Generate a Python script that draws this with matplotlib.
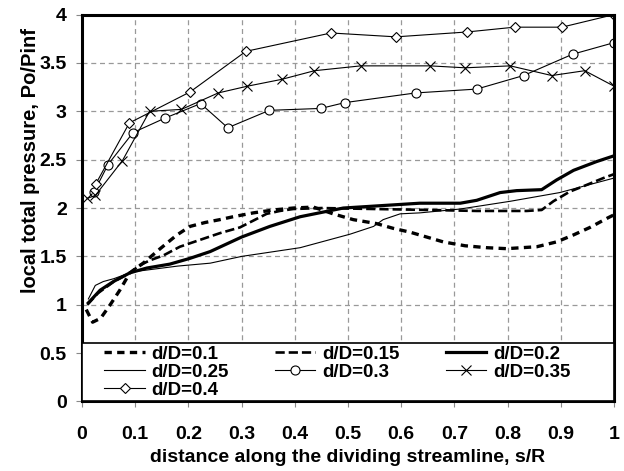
import matplotlib
matplotlib.use("Agg")
from matplotlib import pyplot as plt
from matplotlib.patches import Rectangle
from matplotlib.ticker import FuncFormatter, MultipleLocator

plt.rcParams['font.family'] = ['Liberation Sans', 'DejaVu Sans']
plt.rcParams['font.weight'] = 'bold'

# d/D = 0.1
x01 = [0.008, 0.02, 0.035, 0.053, 0.071, 0.09, 0.115, 0.147, 0.178, 0.203, 0.231, 0.259,
       0.284, 0.322, 0.36, 0.397, 0.435, 0.472, 0.51, 0.553, 0.585, 0.617, 0.648, 0.679,
       0.72, 0.761, 0.798, 0.855, 0.892, 0.923, 0.955, 0.989, 1.0]
y01 = [0.95, 0.82, 0.86, 1.0, 1.15, 1.33, 1.43, 1.58, 1.72, 1.81, 1.85, 1.88,
       1.91, 1.95, 1.98, 2.0, 2.01, 1.94, 1.88, 1.84, 1.79, 1.75, 1.70, 1.65,
       1.61, 1.59, 1.58, 1.60, 1.65, 1.72, 1.80, 1.90, 1.93]

# d/D = 0.15
x015 = [0.01, 0.03, 0.06, 0.09, 0.109, 0.128, 0.153, 0.184, 0.216, 0.259, 0.297, 0.322,
        0.347, 0.372, 0.397, 0.45, 0.55, 0.654, 0.742, 0.836, 0.864, 0.886, 0.917,
        0.949, 0.98, 1.0]
y015 = [1.0, 1.12, 1.24, 1.33, 1.41, 1.46, 1.51, 1.60, 1.66, 1.74, 1.80, 1.87,
        1.94, 1.97, 1.99, 2.0, 1.99, 1.98, 1.97, 1.97, 1.98, 2.07, 2.17,
        2.24, 2.31, 2.35]

# d/D = 0.2
x02 = [0.012, 0.034, 0.059, 0.09, 0.122, 0.165, 0.203, 0.241, 0.3, 0.353, 0.41, 0.491,
       0.635, 0.711, 0.742, 0.786, 0.817, 0.864, 0.892, 0.924, 0.967, 1.0]
y02 = [1.02, 1.15, 1.24, 1.33, 1.38, 1.42, 1.48, 1.55, 1.70, 1.81, 1.91, 2.0,
       2.05, 2.05, 2.08, 2.16, 2.18, 2.19, 2.29, 2.39, 2.48, 2.54]

# d/D = 0.25
x025 = [0.012, 0.025, 0.04, 0.06, 0.095, 0.18, 0.241, 0.3, 0.41, 0.504, 0.548, 0.566,
        0.598, 0.635, 0.711, 0.805, 0.898, 1.0]
y025 = [1.06, 1.2, 1.24, 1.27, 1.34, 1.40, 1.43, 1.50, 1.59, 1.73, 1.81, 1.88,
        1.94, 1.95, 1.99, 2.07, 2.16, 2.31]

# d/D = 0.3
x03 = [0.023, 0.049, 0.096, 0.156, 0.223, 0.274, 0.352, 0.449, 0.494, 0.627, 0.742,
       0.83, 0.922, 1.0]
y03 = [2.17, 2.45, 2.78, 2.93, 3.08, 2.83, 3.01, 3.03, 3.09, 3.19, 3.23,
       3.37, 3.59, 3.71]

# d/D = 0.35
x035 = [0.01, 0.025, 0.076, 0.127, 0.187, 0.256, 0.311, 0.375, 0.437, 0.524, 0.654,
        0.72, 0.805, 0.883, 0.945, 1.0]
y035 = [2.10, 2.13, 2.49, 3.0, 3.02, 3.19, 3.26, 3.33, 3.42, 3.47, 3.47,
        3.45, 3.47, 3.37, 3.42, 3.26]

# d/D = 0.4
x04 = [0.026, 0.089, 0.203, 0.308, 0.468, 0.59, 0.723, 0.813, 0.902, 1.0]
y04 = [2.25, 2.88, 3.20, 3.62, 3.81, 3.77, 3.82, 3.87, 3.87, 4.0]

fig = plt.figure(figsize=(6.24, 4.71), dpi=100)
ax = fig.add_axes((0.1314, 0.1476, 0.8526, 0.8214))

l01, = ax.plot(x01, y01, color='k', lw=2.4, dashes=(2.2, 1.6), label='d/D=0.1')
l015, = ax.plot(x015, y015, color='k', lw=1.9, dashes=(3.5, 1.5), label='d/D=0.15')
l02, = ax.plot(x02, y02, color='k', lw=2.3, label='d/D=0.2')
l025, = ax.plot(x025, y025, color='k', lw=0.8, label='d/D=0.25')
l03, = ax.plot(x03, y03, color='k', lw=0.8, marker='o', ms=6.5, mfc='white', mec='k',
               mew=0.8, label='d/D=0.3')
l035, = ax.plot(x035, y035, color='k', lw=0.8, marker='x', ms=7.5, mew=0.8,
                label='d/D=0.35')
l04, = ax.plot(x04, y04, color='k', lw=0.8, marker='D', ms=5, mfc='white', mec='k',
               mew=0.8, label='d/D=0.4')

ax.set_xlim(0, 1)
ax.set_ylim(0, 4)
ax.xaxis.set_major_locator(MultipleLocator(0.1))
ax.yaxis.set_major_locator(MultipleLocator(0.5))
fmt = FuncFormatter(lambda v, p: '{:g}'.format(round(v, 2)))
ax.xaxis.set_major_formatter(fmt)
ax.yaxis.set_major_formatter(fmt)
ax.grid(True, color='#999999', lw=0.9, dashes=(4, 3))
ax.set_axisbelow(True)
ax.tick_params(direction='out', length=4, width=0.8, color='#888888', labelsize=14)
ax.tick_params(axis='x', pad=14)
ax.tick_params(axis='y', pad=7)
for s in ax.spines.values():
    s.set_linewidth(2.2)

ax.set_xlabel('distance along the dividing streamline, s/R', fontsize=14,
              fontweight='bold')
ax.xaxis.set_label_coords(0.5, -0.122)
ax.set_ylabel('local total pressure, Po/Pinf', fontsize=14.5, fontweight='bold')
ax.yaxis.set_label_coords(-0.078, 0.624)

# white legend box across the bottom of the plot
ax.add_patch(Rectangle((0, 0), 1, 0.151, transform=ax.transAxes, facecolor='white',
                       edgecolor='k', lw=1.2, zorder=4))

# row-wise order in 3 columns
handles = [l01, l025, l04, l015, l03, l02, l035]
leg = ax.legend(handles=handles, loc='center', bbox_to_anchor=(0.48, 0.0755), ncol=3,
                fontsize=13.5, frameon=False, handlelength=2.15, numpoints=1,
                handletextpad=0.37, borderaxespad=0, labelspacing=0.05, borderpad=0,
                columnspacing=2.45)
leg.set_zorder(5)
for t in leg.get_texts():
    t.set_fontweight('bold')

fig.savefig('out.png', dpi=100)
